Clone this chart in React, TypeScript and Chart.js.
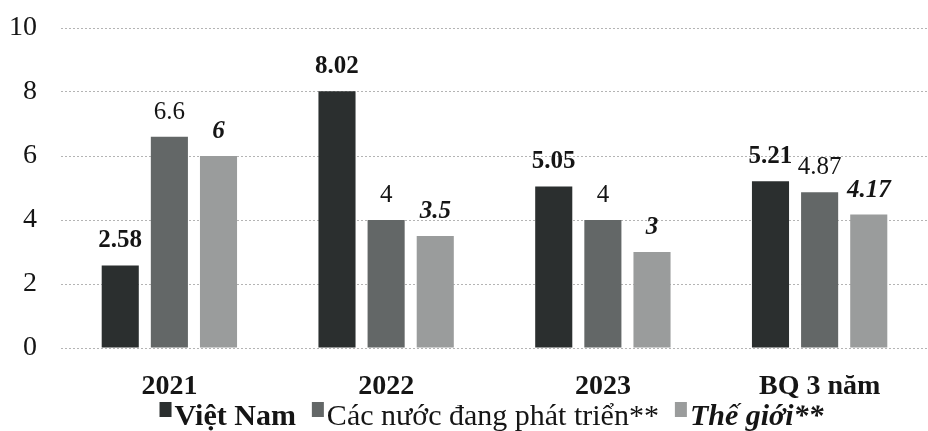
import React, { useEffect, useRef } from "react";
import { Chart, registerables } from "chart.js";

Chart.register(...registerables);

const categories = ["2021", "2022", "2023", "BQ 3 năm"];
const vietNam = [2.58, 8.02, 5.05, 5.21];
const developing = [6.6, 4, 4, 4.87];
const world = [6, 3.5, 3, 4.17];
const yTicks = [0, 2, 4, 6, 8, 10];
const seriesNames = ["Việt Nam", "Các nước đang phát triển**", "Thế giới**"];

const FAMILY = '"Liberation Serif", "Times New Roman", serif';
const COLORS = ["#2b2f2f", "#636767", "#9a9c9c"];
const LABEL_FONTS = [
  `bold 25px ${FAMILY}`,
  `25px ${FAMILY}`,
  `italic bold 25px ${FAMILY}`,
];
const LEGEND_FONTS = [
  `bold 30px ${FAMILY}`,
  `30px ${FAMILY}`,
  `italic bold 30px ${FAMILY}`,
];
const TEXT = "#151515";

const dataLabelPlugin = {
  id: "dataLabels",
  afterDatasetsDraw(chart: any) {
    const ctx = chart.ctx;
    chart.data.datasets.forEach((ds: any, di: number) => {
      const meta = chart.getDatasetMeta(di);
      meta.data.forEach((bar: any, i: number) => {
        ctx.save();
        ctx.font = LABEL_FONTS[di];
        ctx.fillStyle = TEXT;
        ctx.textAlign = "center";
        ctx.textBaseline = "alphabetic";
        ctx.fillText(String(ds.data[i]), bar.x, bar.y - 18);
        ctx.restore();
      });
    });
  },
};

const legendPlugin = {
  id: "customLegend",
  afterDraw(chart: any) {
    const ctx = chart.ctx;
    const { left, right } = chart.chartArea;
    const sq = 12;
    const gap = 3;
    const itemGap = 16;
    ctx.save();
    const widths = seriesNames.map((n, i) => {
      ctx.font = LEGEND_FONTS[i];
      return ctx.measureText(n).width;
    });
    const total =
      widths.reduce((a, w) => a + sq + gap + w, 0) + itemGap * (seriesNames.length - 1);
    let x = (left + right) / 2 - total / 2 - 3;
    const baseline = 425;
    seriesNames.forEach((n, i) => {
      ctx.fillStyle = COLORS[i];
      ctx.fillRect(x, 402, sq, 15);
      x += sq + gap;
      ctx.font = LEGEND_FONTS[i];
      ctx.fillStyle = TEXT;
      ctx.textAlign = "left";
      ctx.textBaseline = "alphabetic";
      ctx.fillText(n, x, baseline);
      x += widths[i] + itemGap;
    });
    ctx.restore();
  },
};

export default function App() {
  const ref = useRef<HTMLCanvasElement | null>(null);
  useEffect(() => {
    if (!ref.current) return;
    const mk = (data: number[], i: number) => ({
      label: seriesNames[i],
      data,
      backgroundColor: COLORS[i],
      borderWidth: 0,
      categoryPercentage: 0.68,
      barPercentage: 0.755,
    });
    const chart = new Chart(ref.current, {
      type: "bar",
      data: {
        labels: categories,
        datasets: [mk(vietNam, 0), mk(developing, 1), mk(world, 2)],
      },
      options: {
        responsive: false,
        animation: false,
        layout: { padding: { top: 28, right: 0, bottom: 28, left: 0 } },
        plugins: {
          legend: { display: false },
          tooltip: { enabled: false },
        },
        scales: {
          x: {
            grid: { display: false, drawTicks: false },
            border: { display: false },
            afterFit: (s: any) => {
              s.height = 55;
              s.paddingLeft = 0;
              s.paddingRight = 0;
            },
            ticks: {
              color: TEXT,
              padding: 22,
              font: { family: FAMILY, size: 28, weight: "bold" },
            },
          },
          y: {
            min: 0,
            max: 10,
            afterBuildTicks: (s: any) => {
              s.ticks = yTicks.map((v) => ({ value: v }));
            },
            afterFit: (s: any) => {
              s.width = 61;
              s.paddingTop = 0;
              s.paddingBottom = 0;
            },
            grid: { color: "#b4b4b4", lineWidth: 1, drawTicks: false },
            border: { display: false, dash: [2, 2] },
            ticks: {
              color: TEXT,
              padding: 24,
              font: { family: FAMILY, size: 28 },
            },
          },
        },
      },
      plugins: [dataLabelPlugin, legendPlugin],
    } as any);
    return () => chart.destroy();
  }, []);
  return (
    <div style={{ position: "absolute", left: 0, top: 0, width: 928, height: 431, background: "#fff" }}>
      <canvas ref={ref} width={928} height={431} style={{ display: "block" }} />
    </div>
  );
}
